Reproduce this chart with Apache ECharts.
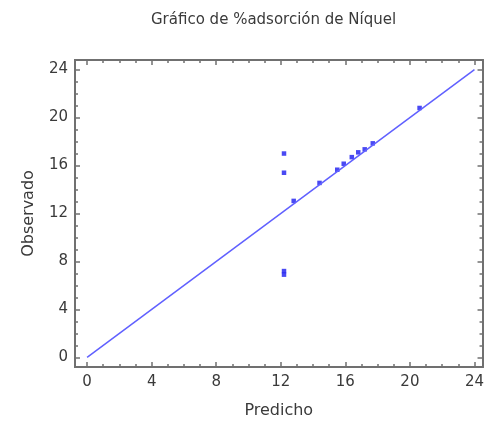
<!DOCTYPE html>
<html><head><meta charset="utf-8">
<script src="https://cdn.jsdelivr.net/npm/echarts@6/dist/echarts.min.js"></script>
<style>html,body{margin:0;padding:0;background:#fff}#c{width:487px;height:424px}</style>
</head><body><div id="c"></div>
<script>
var predicho = [12.2, 12.2, 12.2, 12.2, 12.8, 14.4, 15.5, 15.9, 16.4, 16.8, 17.2, 17.7, 20.6];
var observado = [17.0, 15.4, 7.2, 6.9, 13.05, 14.55, 15.65, 16.15, 16.7, 17.1, 17.35, 17.85, 20.8];
var refLine = [0, 24];
var majorTicks = [0, 4, 8, 12, 16, 20, 24];
var minorTicks = [];
for (var i = 0; i <= 24; i++) minorTicks.push(i);

var FONT = 'DejaVu Sans';
var xMin = -0.75, xMax = 24.5, yMin = -0.8, yMax = 24.8;

function axis(dim, pos, major, withLabel, name) {
  var a = {
    type: 'value', position: pos, min: dim === 'x' ? xMin : yMin, max: dim === 'x' ? xMax : yMax,
    axisLine: {show: true, onZero: false, lineStyle: {color: '#707070', width: 2}},
    axisTick: {show: true, inside: true, length: major ? 5 : 3, customValues: major ? majorTicks : minorTicks,
      lineStyle: {color: '#707070', width: 1.5}},
    axisLabel: {show: withLabel, customValues: majorTicks, color: '#3a3a3a', fontFamily: FONT, fontSize: 15, margin: dim === 'x' ? 8 : 7},
    splitLine: {show: false}
  };
  if (name) {
    a.name = name; a.nameLocation = 'middle';
    a.nameTextStyle = {color: '#3a3a3a', fontFamily: FONT, fontSize: 16};
    a.nameGap = dim === 'x' ? 36 : 38;
  }
  return a;
}

var chart = echarts.init(document.getElementById('c'));
var pts = predicho.map(function (p, i) { return [p, observado[i]]; });
chart.setOption({
  animation: false,
  title: {text: 'Gráfico de %adsorción de Níquel', left: 146, top: 8,
    textStyle: {fontFamily: FONT, fontSize: 15, fontWeight: 'normal', color: '#3a3a3a'}},
  grid: {left: 75, top: 60, width: 408, height: 309, containLabel: false},
  xAxis: [
    axis('x', 'bottom', true, true, 'Predicho'),
    axis('x', 'bottom', false, false),
    axis('x', 'top', true, false),
    axis('x', 'top', false, false)
  ],
  yAxis: [
    axis('y', 'left', true, true, 'Observado'),
    axis('y', 'left', false, false),
    axis('y', 'right', true, false),
    axis('y', 'right', false, false)
  ],
  series: [
    {type: 'line', data: [[refLine[0], refLine[0]], [refLine[1], refLine[1]]], showSymbol: false,
     lineStyle: {color: '#6060ff', width: 1.5}, silent: true},
    {type: 'scatter', data: pts, symbol: 'rect', symbolSize: 4.5, itemStyle: {color: '#1c1cf0'}}
  ]
});
</script></body></html>
